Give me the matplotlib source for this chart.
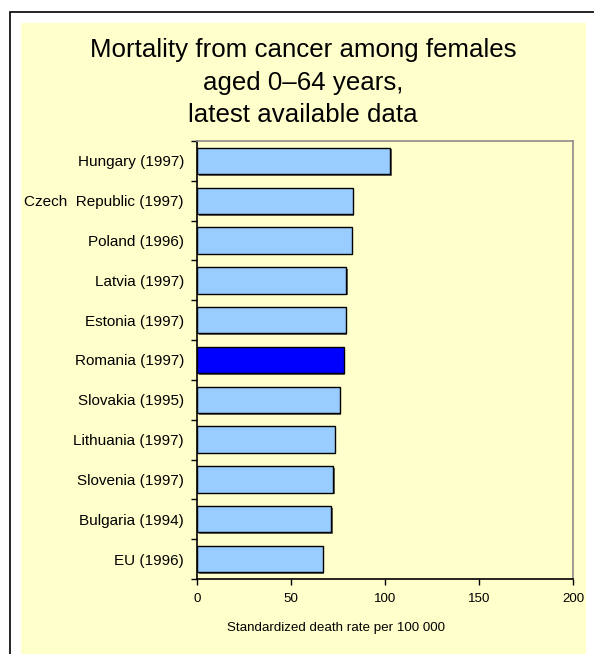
import numpy as np
import matplotlib
matplotlib.use("Agg")
import matplotlib.pyplot as plt
import matplotlib.patheffects as pe
from matplotlib.patches import Rectangle

# data, top to bottom as in the chart
countries = ["Hungary (1997)", "Czech  Republic (1997)", "Poland (1996)",
             "Latvia (1997)", "Estonia (1997)", "Romania (1997)",
             "Slovakia (1995)", "Lithuania (1997)", "Slovenia (1997)",
             "Bulgaria (1994)", "EU (1996)"]
rates = [102.8, 82.8, 82.3, 79.4, 79.0, 78.0, 75.9, 73.2, 72.6, 71.5, 66.8]
highlight = "Romania (1997)"
x_ticks = [0, 50, 100, 150, 200]

title_lines = ["Mortality from cancer among females",
               "aged 0\u201364 years,",
               "latest available data"]
xlabel = "Standardized death rate per 100 000"

W, H = 594, 654
bg = "#FFFFCC"
plt.rcParams["font.family"] = ["Liberation Sans", "DejaVu Sans"]

fig = plt.figure(figsize=(W / 100, H / 100), dpi=100)
fig.patch.set_facecolor("white")

# yellow panel and black frame (right/bottom edges fall off the image)
fig.add_artist(Rectangle((21 / W, -0.1), (586 - 21) / W, 1.1 - 23 / H,
                         transform=fig.transFigure, facecolor=bg,
                         edgecolor="none", zorder=-2))
fig.add_artist(Rectangle((10 / W, -0.1), 1.2, 1.1 - 12 / H,
                         transform=fig.transFigure, facecolor="none",
                         edgecolor="black", linewidth=1.2, zorder=-1))

# title, one line at a time
for line, yb in zip(title_lines, [57, 90, 122]):
    fig.text(303 / W, 1 - yb / H, line, ha="center", va="baseline",
             fontsize=18.6)

ax = fig.add_axes([197 / W, 1 - 579 / H, (573 - 197) / W, (579 - 141) / H])
ax.set_facecolor(bg)

y = np.arange(len(countries))
colors = ["#0000FF" if c == highlight else "#99CCFF" for c in countries]
bars = ax.barh(y, rates, height=0.66, color=colors, edgecolor="black",
               linewidth=1.0, zorder=3)
for b in bars:
    b.set_path_effects([pe.SimplePatchShadow(offset=(1.2, -1.2),
                                             shadow_rgbFace="#555555",
                                             alpha=0.9), pe.Normal()])

ax.set_xlim(0, 200)
ax.set_ylim(len(countries) - 0.5, -0.5)
ax.set_xticks(x_ticks)
ax.set_xticklabels([str(t) for t in x_ticks], fontsize=9.6)
ax.tick_params(axis="x", direction="out", length=4, width=1, pad=6)

ax.set_yticks(y)
ax.set_yticklabels(countries, fontsize=11)
ax.tick_params(axis="y", which="major", length=0, pad=9.4)
ax.set_yticks(np.arange(-0.5, len(countries), 1), minor=True)
ax.tick_params(axis="y", which="minor", direction="out", length=4, width=1)

for s in ["top", "right"]:
    ax.spines[s].set_color("#8C8C8C")
    ax.spines[s].set_linewidth(1.2)
for s in ["left", "bottom"]:
    ax.spines[s].set_color("black")
    ax.spines[s].set_linewidth(1.2)

fig.text(336 / W, 1 - 628 / H, xlabel, ha="center", va="center",
         fontsize=9.6)

fig.savefig("out.png", dpi=100, facecolor=fig.get_facecolor())
